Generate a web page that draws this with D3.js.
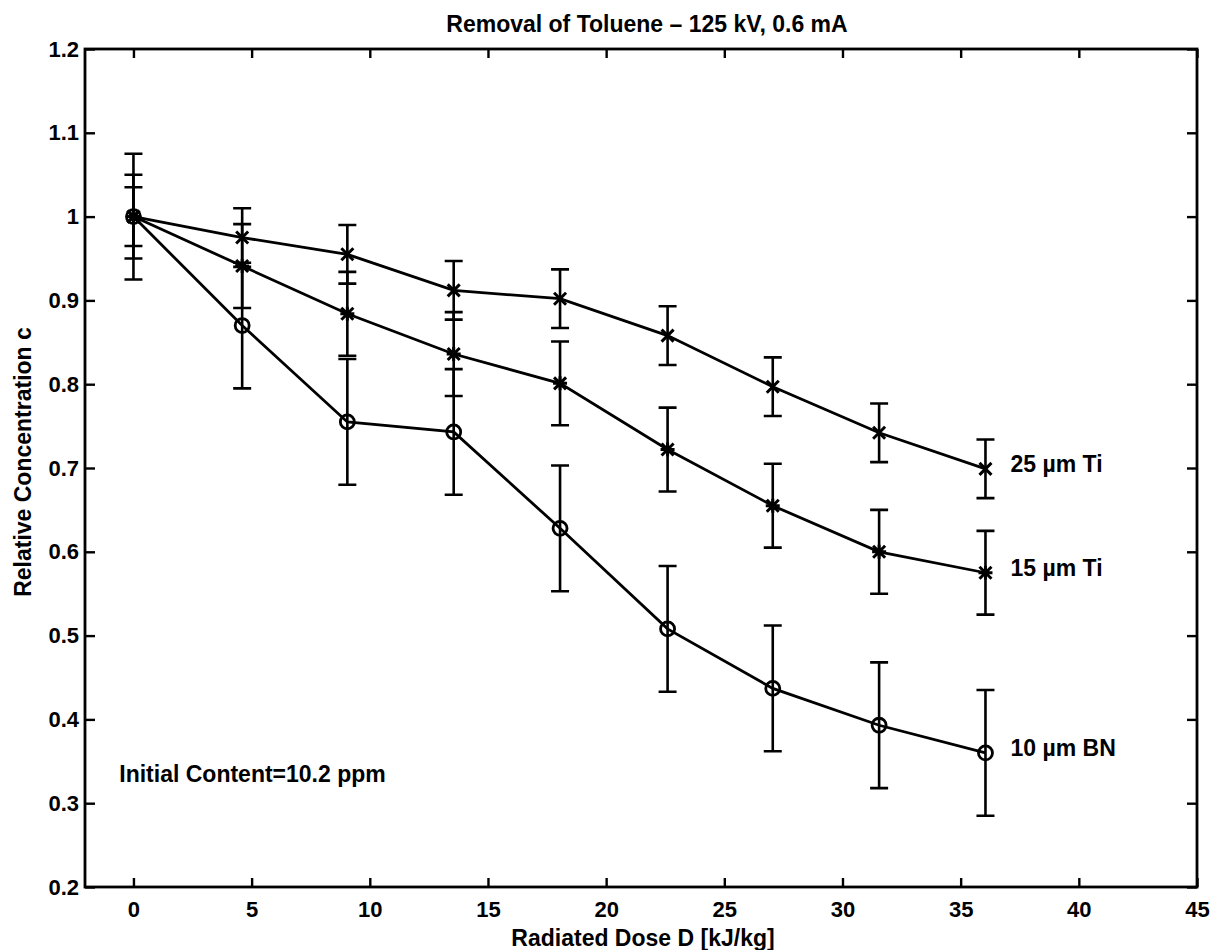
<!DOCTYPE html>
<html>
<head>
<meta charset="utf-8">
<script src="https://cdn.jsdelivr.net/npm/d3@7/dist/d3.min.js"></script>
<style>
  body { margin: 0; background: #fff; }
  text { font-family: "Liberation Sans", Arial, sans-serif; font-weight: bold; fill: #000; }
</style>
</head>
<body>
<div id="chart"></div>
<script>
//Datos
var doses = [0, 4.6, 9.05, 13.55, 18.05, 22.6, 27.05, 31.55, 36.05];
var ti25 = [1.0, 0.975, 0.955, 0.912, 0.902, 0.858, 0.797, 0.742, 0.699];
var ti15 = [1.0, 0.941, 0.884, 0.836, 0.801, 0.722, 0.655, 0.600, 0.575];
var bn10 = [1.0, 0.870, 0.755, 0.743, 0.628, 0.508, 0.437, 0.393, 0.360];
var err25 = [0.035, 0.035, 0.035, 0.035, 0.035, 0.035, 0.035, 0.035, 0.035];
var err15 = [0.05, 0.05, 0.05, 0.05, 0.05, 0.05, 0.05, 0.05, 0.05];
var err10 = [0.075, 0.075, 0.075, 0.075, 0.075, 0.075, 0.075, 0.075, 0.075];
var seriesNames = ["25 \u00b5m Ti", "15 \u00b5m Ti", "10 \u00b5m BN"];
var xTicks = [0, 5, 10, 15, 20, 25, 30, 35, 40, 45];
var yTicks = [0.2, 0.3, 0.4, 0.5, 0.6, 0.7, 0.8, 0.9, 1.0, 1.1, 1.2];
var yTickLabels = ["0.2", "0.3", "0.4", "0.5", "0.6", "0.7", "0.8", "0.9", "1", "1.1", "1.2"];

(function(){

  var W = 1216, H = 950;
  var pLeft = 85, pRight = 1197, pTop = 49, pBottom = 887;
  var fs = 23;

  var svg = d3.select("#chart")
              .append("svg")
              .attr("width", W)
              .attr("height", H);

  var x = d3.scaleLinear().domain([-2.05, 45]).range([pLeft, pRight]);
  var y = d3.scaleLinear().domain([0.2, 1.2]).range([pBottom, pTop]);

  //Ejes con ticks hacia dentro
  var gx = svg.append("g")
              .attr("transform", "translate(0," + pBottom + ")")
              .call(d3.axisBottom(x).tickValues(xTicks).tickSizeInner(-9).tickSizeOuter(0).tickPadding(14));
  var gxt = svg.append("g")
               .attr("transform", "translate(0," + pTop + ")")
               .call(d3.axisTop(x).tickValues(xTicks).tickSizeInner(-9).tickSizeOuter(0).tickFormat(""));
  var gy = svg.append("g")
              .attr("transform", "translate(" + pLeft + ",0)")
              .call(d3.axisLeft(y).tickValues(yTicks).tickSizeInner(-10).tickSizeOuter(0).tickPadding(6)
                      .tickFormat(function(d, i){ return yTickLabels[i]; }));
  var gyr = svg.append("g")
               .attr("transform", "translate(" + pRight + ",0)")
               .call(d3.axisRight(y).tickValues(yTicks).tickSizeInner(-10).tickSizeOuter(0).tickFormat(""));

  [gx, gxt, gy, gyr].forEach(function(g){
    g.select(".domain").remove();
    g.selectAll(".tick line").attr("stroke", "#000").attr("stroke-width", 2.4);
    g.selectAll(".tick text")
     .style("font-size", "22px")
     .style("font-family", "Liberation Sans, Arial, sans-serif")
     .style("font-weight", "bold")
     .attr("fill", "#000");
  });

  //Caja
  svg.append("rect")
     .attr("x", pLeft)
     .attr("y", pTop)
     .attr("width", pRight - pLeft)
     .attr("height", pBottom - pTop)
     .attr("fill", "none")
     .attr("stroke", "#000")
     .attr("stroke-width", 2.8);

  //Titulo y etiquetas
  svg.append("text")
     .text("Removal of Toluene \u2013 125 kV, 0.6 mA")
     .attr("x", 647)
     .attr("y", 32)
     .attr("text-anchor", "middle")
     .attr("font-size", fs);

  svg.append("text")
     .text("Radiated Dose D [kJ/kg]")
     .attr("x", 643)
     .attr("y", 946)
     .attr("text-anchor", "middle")
     .attr("font-size", fs);

  svg.append("text")
     .text("Relative Concentration c")
     .attr("transform", "translate(31,462) rotate(-90)")
     .attr("text-anchor", "middle")
     .attr("font-size", fs);

  svg.append("text")
     .text("Initial Content=10.2 ppm")
     .attr("x", x(-0.6))
     .attr("y", y(0.325))
     .attr("font-size", fs);

  var series = [
    {name: seriesNames[0], values: ti25, err: err25, marker: "times"},
    {name: seriesNames[1], values: ti15, err: err15, marker: "star"},
    {name: seriesNames[2], values: bn10, err: err10, marker: "circle"}
  ];

  var line = d3.line()
               .x(function(d){ return x(d[0]); })
               .y(function(d){ return y(d[1]); });

  var capW = 9;

  series.forEach(function(s){
    var pts = doses.map(function(d, i){ return [d, s.values[i], s.err[i]]; });
    var g = svg.append("g");

    //Barras de error
    pts.forEach(function(p){
      var cx = x(p[0]);
      var y0 = y(p[1] - p[2]), y1 = y(p[1] + p[2]);
      g.append("path")
       .attr("d", "M" + cx + "," + y0 + "V" + y1 +
                  "M" + (cx - capW) + "," + y0 + "H" + (cx + capW) +
                  "M" + (cx - capW) + "," + y1 + "H" + (cx + capW))
       .attr("fill", "none")
       .attr("stroke", "#000")
       .attr("stroke-width", 2.6);
    });

    g.append("path")
     .datum(pts)
     .attr("d", line)
     .attr("fill", "none")
     .attr("stroke", "#000")
     .attr("stroke-width", 2.8);

    //Marcadores
    pts.forEach(function(p){
      var cx = x(p[0]), cy = y(p[1]);
      if(s.marker === "circle"){
        g.append("circle")
         .attr("cx", cx).attr("cy", cy).attr("r", 7)
         .attr("fill", "none").attr("stroke", "#000").attr("stroke-width", 2.8);
      } else {
        var r = 6;
        var d = "M" + (cx - r) + "," + (cy - r) + "L" + (cx + r) + "," + (cy + r) +
                "M" + (cx - r) + "," + (cy + r) + "L" + (cx + r) + "," + (cy - r);
        if(s.marker === "star"){
          d += "M" + cx + "," + (cy - r - 1) + "V" + (cy + r + 1) +
               "M" + (cx - r - 1) + "," + cy + "H" + (cx + r + 1);
        }
        g.append("path")
         .attr("d", d)
         .attr("fill", "none")
         .attr("stroke", "#000")
         .attr("stroke-width", 3);
      }
    });

    //Etiqueta de la serie
    var last = pts[pts.length - 1];
    g.append("text")
     .text(s.name)
     .attr("x", x(last[0]) + 25)
     .attr("y", y(last[1]) + 3)
     .attr("font-size", fs);
  });

})();
</script>
</body>
</html>
